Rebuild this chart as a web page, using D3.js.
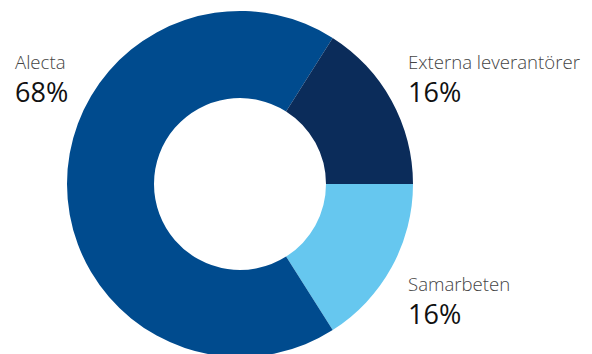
<!DOCTYPE html>
<html>
<head>
<meta charset="utf-8">
<script src="https://cdn.jsdelivr.net/npm/d3@7"></script>
<style>
  body { margin: 0; background: #fff; }
  text { font-family: "Open Sans", sans-serif; }
</style>
</head>
<body>
<svg width="592" height="354"></svg>
<script>
// data, in drawing order clockwise from 3 o'clock
const categories = ["Samarbeten", "Alecta", "Externa leverantörer"];
const shares = [16, 68, 16];
const colors = ["#66c7ef", "#004b8e", "#0b2c5a"];

const svg = d3.select("svg");
const cx = 240, cy = 184;
const outerR = 173, innerR = 86;

const pie = d3.pie()
  .sort(null)
  .value(d => d)
  .startAngle(Math.PI / 2)
  .endAngle(Math.PI / 2 + 2 * Math.PI);

const arc = d3.arc().innerRadius(innerR).outerRadius(outerR);

const g = svg.append("g").attr("transform", `translate(${cx},${cy})`);

g.selectAll("path")
  .data(pie(shares))
  .join("path")
  .attr("d", arc)
  .attr("fill", (d, i) => colors[i]);

// label positions (baseline of the category name)
const labelPos = [
  { x: 408, y: 291 },
  { x: 15, y: 69 },
  { x: 408, y: 69 }
];

const labels = svg.selectAll(".lbl")
  .data(categories)
  .join("g")
  .attr("class", "lbl")
  .attr("transform", (d, i) => `translate(${labelPos[i].x},${labelPos[i].y})`);

labels.append("text")
  .attr("fill", "#444")
  .style("font-size", "18.6px")
  .style("font-weight", 300)
  .text(d => d);

labels.append("text")
  .attr("y", 32.5)
  .attr("fill", "#111")
  .style("font-size", "27px")
  .style("font-weight", 400)
  .text((d, i) => shares[i] + "%");
</script>
</body>
</html>
